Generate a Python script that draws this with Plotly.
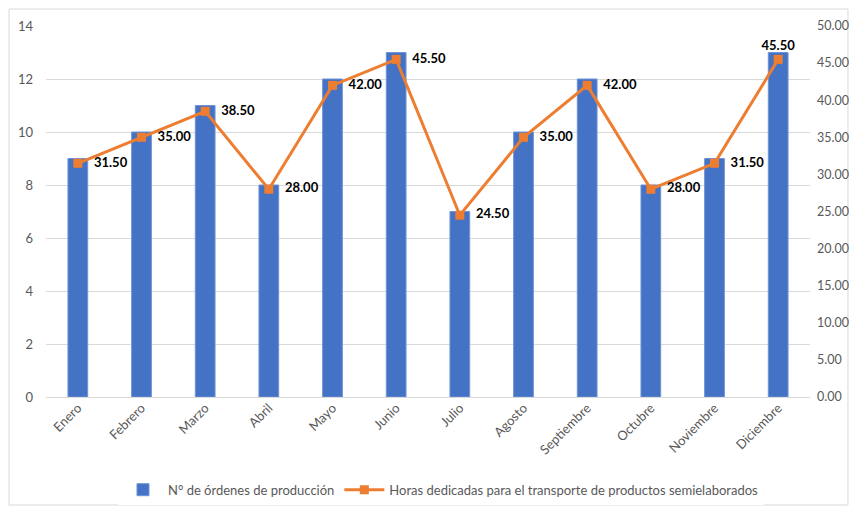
import plotly.graph_objects as go

months = ["Enero", "Febrero", "Marzo", "Abril", "Mayo", "Junio", "Julio",
          "Agosto", "Septiembre", "Octubre", "Noviembre", "Diciembre"]
ordenes = [9, 10, 11, 8, 12, 13, 7, 10, 12, 8, 9, 13]
horas = [31.5, 35.0, 38.5, 28.0, 42.0, 45.5, 24.5, 35.0, 42.0, 28.0, 31.5, 45.5]
bar_name = "N° de órdenes de producción"
line_name = "Horas dedicadas para el transporte de productos semielaborados"

FONT = "Lato"
GRAY = "#595959"

label_pos = ["middle right"] * 11 + ["top center"]
label_tpl = ["   %{y:.2f}"] * 11 + ["%{y:.2f}"]

fig = go.Figure()
fig.add_trace(go.Bar(
    x=months, y=ordenes, name=bar_name,
    marker=dict(color="#4472C4", line=dict(color="#6f93d6", width=1)),
    yaxis="y",
))
fig.add_trace(go.Scatter(
    x=months, y=horas, name=line_name, yaxis="y2",
    mode="lines+markers+text",
    line=dict(color="#ED7D31", width=3),
    marker=dict(symbol="square", size=9, color="#ED7D31"),
    texttemplate=label_tpl,
    textposition=label_pos,
    textfont=dict(family=FONT, size=13, color="black", weight="bold"),
    cliponaxis=False,
))

# page body has an 8px default margin; figure sized to fit the 857x509 window
fig.update_layout(
    width=849, height=501,
    margin=dict(l=38, r=47, t=18, b=112, autoexpand=False),
    paper_bgcolor="white", plot_bgcolor="white",
    font=dict(family=FONT, size=13, color=GRAY),
    bargap=0.69,
    showlegend=True,
    legend=dict(orientation="h", x=0.517, xanchor="center", y=-0.25, yanchor="middle",
                font=dict(family=FONT, size=13, color=GRAY), itemwidth=40),
    xaxis=dict(tickangle=-45, showgrid=False, showline=False, ticks="", automargin=False,
               range=[-0.5, len(months) - 0.5],
               tickfont=dict(family=FONT, size=13, color=GRAY)),
    yaxis=dict(range=[0, 14], dtick=2, showgrid=True, gridcolor="#D9D9D9", gridwidth=1,
               zeroline=True, zerolinecolor="#D9D9D9", zerolinewidth=1,
               showline=False, ticks="", ticklabelstandoff=12, automargin=False,
               tickfont=dict(family=FONT, size=13, color=GRAY)),
    yaxis2=dict(range=[0, 50], dtick=5, overlaying="y", side="right", tickformat=".2f",
                showgrid=False, zeroline=False, showline=False, ticks="",
                ticklabelstandoff=6, automargin=False,
                tickfont=dict(family=FONT, size=12.5, color=GRAY)),
    shapes=[dict(type="rect", xref="paper", yref="paper",
                 x0=-0.0484, x1=1.0497, y0=-0.2911, y1=1.0458,
                 line=dict(color="#D9D9D9", width=1), layer="below")],
)

fig.write_html("out.html")
